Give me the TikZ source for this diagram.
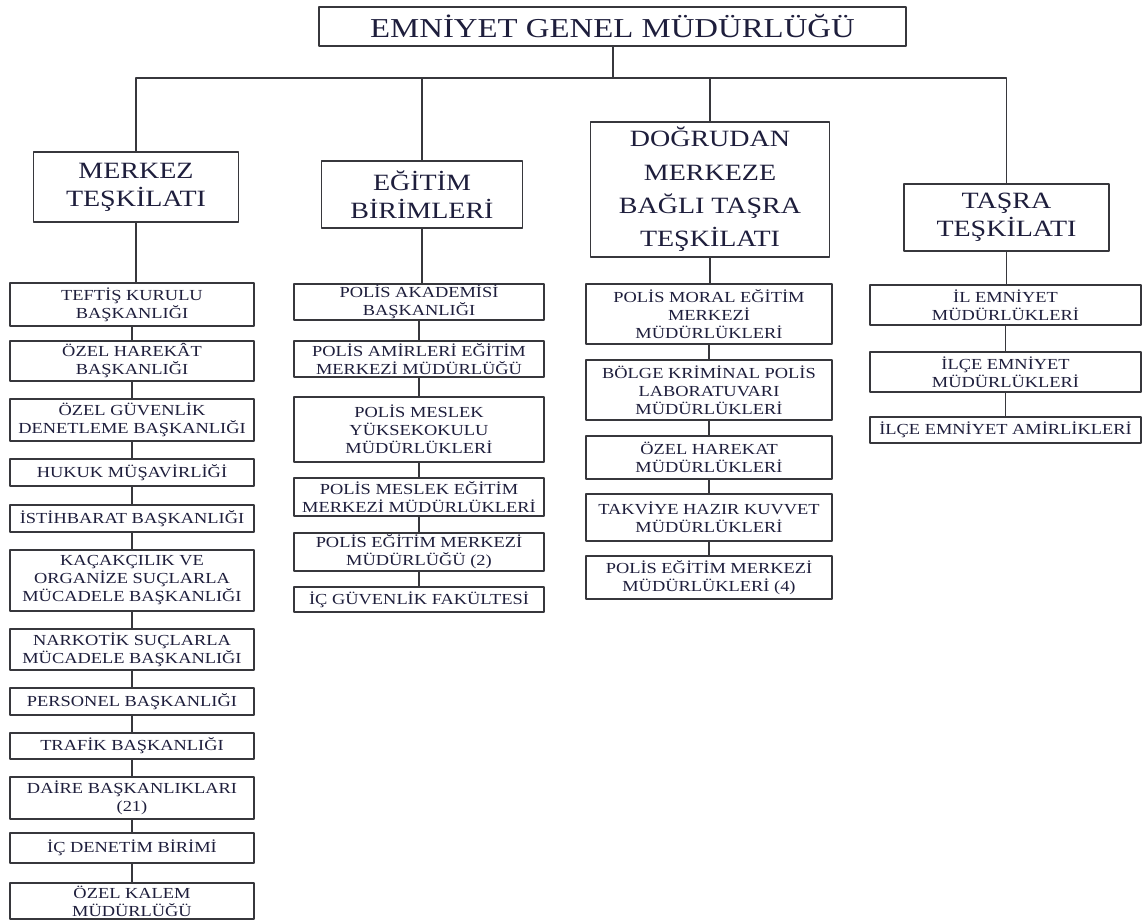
\documentclass[tikz,border=0pt]{standalone}
\usepackage{fontspec}
\setmainfont{Liberation Serif}[FakeStretch=1.2]
\definecolor{linec}{RGB}{55,55,60}
\definecolor{txt}{RGB}{30,30,60}
\begin{document}
\begin{tikzpicture}[x=0.75pt,y=-0.75pt,line join=round,line cap=round,
	box/.style={draw=linec,line width=1pt,fill=white,align=center,inner sep=0pt,text=txt},
	unit/.style={box,font=\fontsize{11.5}{13.5}\selectfont},
	group/.style={box,font=\fontsize{17.5}{21}\selectfont},
	head/.style={box,font=\fontsize{20.5}{24}\selectfont},
	link/.style={draw=linec,line width=1pt}]
	\useasboundingbox[fill=white] (0,0) rectangle (1142,920);
	% genel mudurluk
	\node[head,minimum width=440.25pt,minimum height=29.25pt] (egm) at (612.5,26.5) {EMNİYET GENEL MÜDÜRLÜĞÜ};
	\coordinate (bar) at (613,78);
	% ana birimler
	\node[group,minimum width=153.75pt,minimum height=52.5pt] (merkez) at (136,187) {MERKEZ\\TEŞKİLATI};
	\node[group,minimum width=150.75pt,minimum height=50.25pt] (egitim) at (422,194.5) {EĞİTİM\\BİRİMLERİ};
	\node[group,minimum width=179.25pt,minimum height=101.25pt,font=\fontsize{17.5}{25}\selectfont] (dogrudan) at (710,189.5) {DOĞRUDAN\\MERKEZE\\BAĞLI TAŞRA\\TEŞKİLATI};
	\node[group,minimum width=153.75pt,minimum height=50.25pt] (tasra) at (1006.5,217.5) {TAŞRA\\TEŞKİLATI};
	% merkez teskilati
	\node[unit,minimum width=183pt,minimum height=32.25pt] (m1) at (132,304.5) {TEFTİŞ KURULU\\BAŞKANLIĞI};
	\node[unit,minimum width=183pt,minimum height=30pt] (m2) at (132,361) {ÖZEL HAREKÂT\\BAŞKANLIĞI};
	\node[unit,minimum width=183pt,minimum height=31.5pt] (m3) at (132,420) {ÖZEL GÜVENLİK\\DENETLEME BAŞKANLIĞI};
	\node[unit,minimum width=183pt,minimum height=20.25pt] (m4) at (132,472.5) {HUKUK MÜŞAVİRLİĞİ};
	\node[unit,minimum width=183pt,minimum height=20.25pt] (m5) at (132,518.5) {İSTİHBARAT BAŞKANLIĞI};
	\node[unit,minimum width=183pt,minimum height=45.75pt] (m6) at (132,580.5) {KAÇAKÇILIK VE\\ORGANİZE SUÇLARLA\\MÜCADELE BAŞKANLIĞI};
	\node[unit,minimum width=183pt,minimum height=30.75pt] (m7) at (132,649.5) {NARKOTİK SUÇLARLA\\MÜCADELE BAŞKANLIĞI};
	\node[unit,minimum width=183pt,minimum height=20.25pt] (m8) at (132,701.5) {PERSONEL BAŞKANLIĞI};
	\node[unit,minimum width=183pt,minimum height=19.5pt] (m9) at (132,746) {TRAFİK BAŞKANLIĞI};
	\node[unit,minimum width=183pt,minimum height=31.5pt] (m10) at (132,798) {DAİRE BAŞKANLIKLARI\\(21)};
	\node[unit,minimum width=183pt,minimum height=22.5pt] (m11) at (132,848) {İÇ DENETİM BİRİMİ};
	\node[unit,minimum width=183pt,minimum height=27pt] (m12) at (132,901) {ÖZEL KALEM\\MÜDÜRLÜĞÜ};
	% egitim birimleri
	\node[unit,minimum width=187.5pt,minimum height=27pt] (e1) at (419,302) {POLİS AKADEMİSİ\\BAŞKANLIĞI};
	\node[unit,minimum width=187.5pt,minimum height=27pt] (e2) at (419,359) {POLİS AMİRLERİ EĞİTİM\\MERKEZİ MÜDÜRLÜĞÜ};
	\node[unit,minimum width=187.5pt,minimum height=48.75pt] (e3) at (419,429.5) {POLİS MESLEK\\YÜKSEKOKULU\\MÜDÜRLÜKLERİ};
	\node[unit,minimum width=187.5pt,minimum height=28.5pt] (e4) at (419,497) {POLİS MESLEK EĞİTİM\\MERKEZİ MÜDÜRLÜKLERİ};
	\node[unit,minimum width=187.5pt,minimum height=28.5pt] (e5) at (419,552) {POLİS EĞİTİM MERKEZİ\\MÜDÜRLÜĞÜ (2)};
	\node[unit,minimum width=187.5pt,minimum height=18.75pt] (e6) at (419,599.5) {İÇ GÜVENLİK FAKÜLTESİ};
	% dogrudan merkeze bagli tasra teskilati
	\node[unit,minimum width=184.5pt,minimum height=45pt] (d1) at (709,314) {POLİS MORAL EĞİTİM\\MERKEZİ\\MÜDÜRLÜKLERİ};
	\node[unit,minimum width=184.5pt,minimum height=45pt] (d2) at (709,390) {BÖLGE KRİMİNAL POLİS\\LABORATUVARI\\MÜDÜRLÜKLERİ};
	\node[unit,minimum width=184.5pt,minimum height=32.25pt] (d3) at (709,457.5) {ÖZEL HAREKAT\\MÜDÜRLÜKLERİ};
	\node[unit,minimum width=184.5pt,minimum height=35.25pt] (d4) at (709,517.5) {TAKVİYE HAZIR KUVVET\\MÜDÜRLÜKLERİ};
	\node[unit,minimum width=184.5pt,minimum height=32.25pt] (d5) at (709,577.5) {POLİS EĞİTİM MERKEZİ\\MÜDÜRLÜKLERİ (4)};
	% tasra teskilati
	\node[unit,minimum width=203.25pt,minimum height=30pt] (t1) at (1005.5,305) {İL EMNİYET\\MÜDÜRLÜKLERİ};
	\node[unit,minimum width=203.25pt,minimum height=30pt] (t2) at (1005.5,372) {İLÇE EMNİYET\\MÜDÜRLÜKLERİ};
	\node[unit,minimum width=203.25pt,minimum height=19.5pt] (t3) at (1005.5,430) {İLÇE EMNİYET AMİRLİKLERİ};
	% baglantilar
	\draw[link] (egm.south -| bar) -- (bar);
	\draw[link] (merkez.north) |- (bar);
	\draw[link] (tasra.north) |- (bar);
	\draw[link] (egitim.north) -- (egitim.north |- bar);
	\draw[link] (dogrudan.north) -- (dogrudan.north |- bar);
	\draw[link] (merkez.south) -- (merkez.south |- m1.north);
	\draw[link] (egitim.south) -- (egitim.south |- e1.north);
	\draw[link] (dogrudan.south) -- (dogrudan.south |- d1.north);
	\draw[link] (tasra.south) -- (tasra.south |- t1.north);
	\draw[link] (m1) -- (m2) (m2) -- (m3) (m3) -- (m4) (m4) -- (m5) (m5) -- (m6);
	\draw[link] (m6) -- (m7) (m7) -- (m8) (m8) -- (m9) (m9) -- (m10) (m10) -- (m11) (m11) -- (m12);
	\draw[link] (e1) -- (e2) (e2) -- (e3) (e3) -- (e4) (e4) -- (e5) (e5) -- (e6);
	\draw[link] (d1) -- (d2) (d2) -- (d3) (d3) -- (d4) (d4) -- (d5);
	\draw[link] (t1) -- (t2) (t2) -- (t3);
\end{tikzpicture}
\end{document}
